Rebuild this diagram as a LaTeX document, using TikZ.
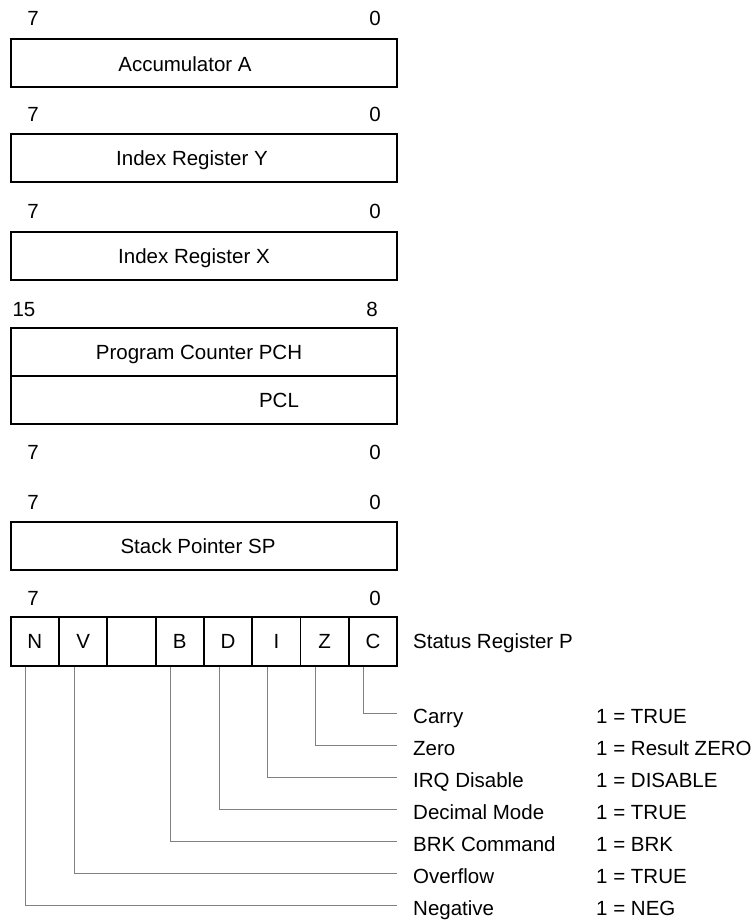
\documentclass[tikz,border=0pt]{standalone}
\usepackage{fontspec}
\setmainfont{Liberation Sans}
\usepackage{tikz}
\usepackage{xcolor}
\usetikzlibrary{positioning}
\definecolor{wiregray}{gray}{0.5}

\begin{document}
\begin{tikzpicture}[x=1pt, y=-1pt, every node/.style={font=\fontsize{20.5}{24}\selectfont},
    regbox/.style={draw, line width=1.8pt, minimum width=386pt, minimum height=48pt, inner sep=0pt},
    regtext/.style={inner sep=0pt, text height=14pt, text depth=0pt},
    bitno/.style={inner sep=0pt, text height=14pt, text depth=0pt},
    bitcell/.style={draw, line width=1.8pt, minimum width=48.3pt, minimum height=49pt, inner sep=0pt, text height=14pt, text depth=0pt},
    flag/.style={anchor=west, inner sep=0pt, text height=20pt, text depth=0pt},
    wire/.style={draw=wiregray, line width=1pt}]
    \useasboundingbox (0,0) rectangle (754,922);

    \node[bitno] (accHi) at (33,18) {7};
    \node[bitno] (accLo) at (375,18) {0};
    \node[regbox] (accA) at (204,63) {};
    \node[regtext] (accAtxt) at (185,64) {Accumulator A};

    \node[bitno] (idyHi) at (33,114) {7};
    \node[bitno] (idyLo) at (375,114) {0};
    \node[regbox] (idxY) at (204,158) {};
    \node[regtext] (idxYtxt) at (192,158) {Index Register Y};

    \node[bitno] (idxHi) at (33,211) {7};
    \node[bitno] (idxLo) at (375,211) {0};
    \node[regbox] (idxX) at (204,256) {};
    \node[regtext] (idxXtxt) at (194,256) {Index Register X};

    \node[bitno] (pcHi) at (24,309) {15};
    \node[bitno] (pcLo) at (372,309) {8};
    \node[regbox] (pch) at (204,352) {};
    \node[regtext] (pchtxt) at (199,352) {Program Counter PCH};
    \node[regbox] (pcl) at (204,400) {};
    \node[regtext] (pcltxt) at (279,400) {PCL};

    \node[bitno] (pclHi) at (33,452) {7};
    \node[bitno] (pclLo) at (375,452) {0};

    \node[bitno] (spHi) at (33,502) {7};
    \node[bitno] (spLo) at (375,502) {0};
    \node[regbox] (sp) at (204,546) {};
    \node[regtext] (sptxt) at (198,546) {Stack Pointer SP};

    \node[bitno] (stHi) at (33,598) {7};
    \node[bitno] (stLo) at (375,598) {0};
    \foreach \b/\t [count=\i] in {N/N, V/V, U/{}, B/B, D/D, I/I, Z/Z, C/C}
        \node[bitcell] (bit\b) at ({10.7+48.3*(\i-0.5)},641.5) {\t};
    \node[flag, text height=14pt] (stP) at (413,641.5) {Status Register P};

    \foreach \b/\name/\val [count=\i from 0] in {C/Carry/1 = TRUE, Z/Zero/1 = Result ZERO,
        I/IRQ Disable/1 = DISABLE, D/Decimal Mode/1 = TRUE, B/BRK Command/1 = BRK,
        V/Overflow/1 = TRUE, N/Negative/1 = NEG} {
        \node[flag] (name\b) at (413,{713+32*\i}) {\name};
        \node[flag] (val\b) at (596,{713+32*\i}) {\val};
        \draw[wire] ([xshift=16pt]bit\b.south west) |- ([xshift=-16pt]name\b.west);
    }
\end{tikzpicture}
\end{document}
